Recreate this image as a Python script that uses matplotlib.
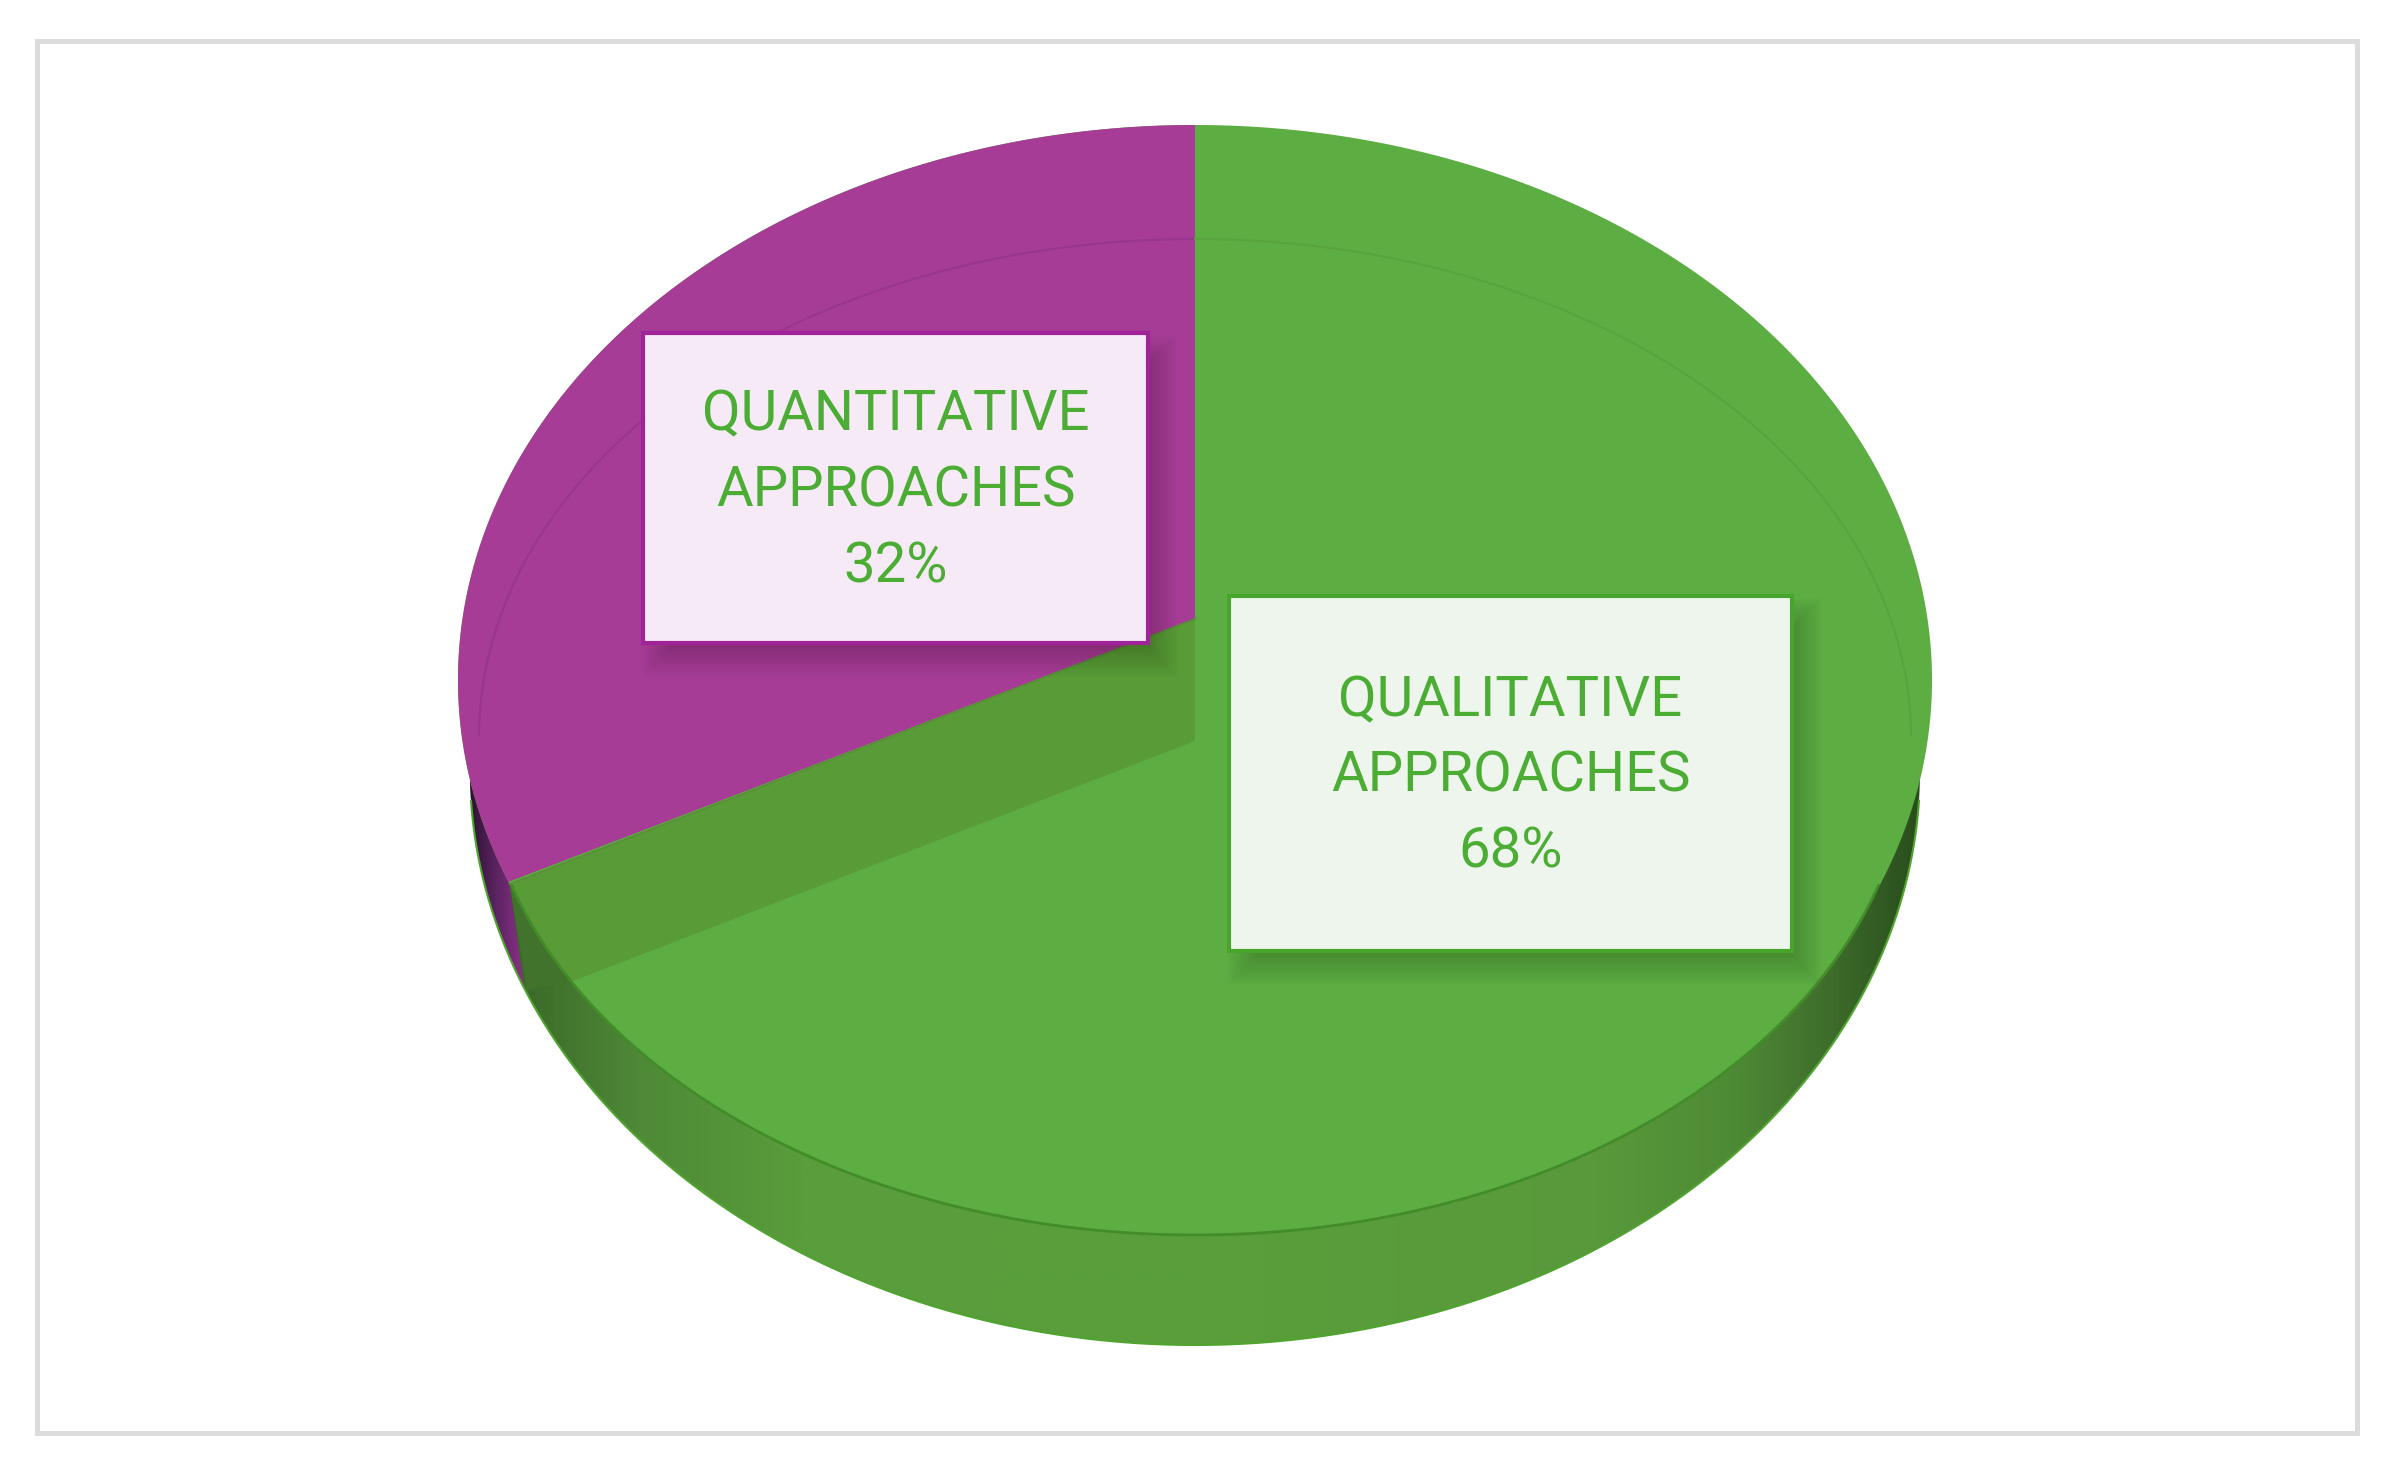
import numpy as np
import matplotlib
matplotlib.use("Agg")
import matplotlib.pyplot as plt
from matplotlib.colors import LinearSegmentedColormap
from matplotlib.patches import Polygon, Rectangle

# data
categories = ["QUALITATIVE\nAPPROACHES", "QUANTITATIVE\nAPPROACHES"]
values = [68, 32]

# colours
green = "#5dae42"
green_dark = "#589b37"
green_text = "#4cad34"
purple = "#a63c96"

# geometry of the drawing, in pixels
W, H = 2396, 1479
cx = 1195
apex_y = 619        # centre of the top face
wall = 122          # height of the cut wall
tilt = 0.82


def ellipse(cy, rx, ry, n=1440):
    t = np.linspace(0, 2 * np.pi, n)
    return np.column_stack([cx + rx * np.sin(t), cy - ry * np.cos(t)])


def ray_dir(deg):
    a = np.radians(deg)
    return np.array([np.sin(a), -np.cos(a) * tilt])


def hit(start, d, curve):
    # first point of a curve in the direction d seen from start
    v = curve - start
    err = np.abs(v[:, 0] * d[1] - v[:, 1] * d[0])
    err[(v @ d) < 0] = 1e9
    return curve[np.argmin(err)]


def gradient(ax, stops, clip, x0, x1):
    xs = np.linspace(0, 1, 600)
    cmap = LinearSegmentedColormap.from_list("g", [((x - x0) / (x1 - x0), c) for x, c in stops])
    im = ax.imshow(xs[None, :], extent=(x0, x1, H, 0), cmap=cmap, vmin=0, vmax=1, aspect="auto", zorder=1)
    im.set_clip_path(clip)


plt.rcParams["font.family"] = ["Roboto", "DejaVu Sans"]

fig = plt.figure(figsize=(W / 100, H / 100), dpi=100)
ax = fig.add_axes([0, 0, 1, 1])

upper = ellipse(680, 737, 555)
lip = ellipse(737, 716, 498)
body = ellipse(770, 725, 575)

# angle where the first slice ends, clockwise from the top
cut = values[0] / sum(values) * 360
d = ray_dir(cut)
apex = np.array([cx, apex_y])
apex2 = np.array([cx, apex_y + wall])
p_end = hit(apex, d, upper)
p_end2 = hit(apex2, d, lip)
edge_y = p_end[1]

# side of the pie
body_patch = Polygon(body, closed=True, fc="none", ec="none", transform=ax.transData)
ax.add_patch(body_patch)
gradient(ax, [(455, "#2e5520"), (527, "#3d6c2a"), (640, "#4f8a37"), (800, "#5a9d3c"), (1195, "#5a9f3c"),
              (1600, "#59993b"), (1740, "#4e8a35"), (1830, "#3f6e2c"), (1932, "#274a1b")],
         body_patch, 455, 1932)
low = body[body[:, 1] > 800]
low = low[np.argsort(low[:, 0])]
ax.plot(low[:, 0], low[:, 1], color="#4ea42e", lw=1.5, zorder=1.1)

# purple part of the side, left of the cut
side_pts = body[(body[:, 0] < cx) & (body[:, 1] < 990) & (body[:, 1] > 700)]
side_patch = Polygon(np.vstack([side_pts, [p_end]]), closed=True, fc="none", ec="none", transform=ax.transData)
ax.add_patch(side_patch)
gradient(ax, [(470, "#2b1230"), (495, "#5a2360"), (530, "#93338f")], side_patch, 470, 530)
ax.add_patch(Polygon([p_end, (527, 990), p_end2], closed=True, fc="#41732c", ec="none", zorder=1.2))

# top face, green first and then the purple slice over it
face = np.vstack([upper[upper[:, 1] <= edge_y], lip[lip[:, 1] > edge_y]])
face = face[np.argsort(np.arctan2(face[:, 0] - cx, -(face[:, 1] - 700)))]
face_patch = Polygon(face, closed=True, fc=green, ec="none", zorder=2)
ax.add_patch(face_patch)

ang = np.degrees(np.arctan2(upper[:, 0] - cx, -(upper[:, 1] - apex_y) / tilt)) % 360
arc = upper[ang >= cut]
arc = arc[np.argsort(ang[ang >= cut])]
ax.add_patch(Polygon(np.vstack([apex, arc, [cx, 125]]), closed=True, fc=purple, ec="none", zorder=2.1))

# cut wall of the slice
wall_patch = Polygon([apex, apex + d * 1500, apex2 + d * 1500, apex2], closed=True, fc=green_dark, ec="none", zorder=2.2)
ax.add_patch(wall_patch)
wall_patch.set_clip_path(face_patch)
ax.plot([apex[0], p_end[0]], [apex[1], p_end[1]], color="#5b8f3a", lw=1.3, zorder=2.25)

# thin rim line, stronger on the front
top_part = lip[lip[:, 1] <= 737]
is_purple = top_part[:, 0] < cx
ax.plot(top_part[is_purple, 0], top_part[is_purple, 1], color="#97368c", lw=1.5, zorder=2.3)
ax.plot(top_part[~is_purple, 0], top_part[~is_purple, 1], color="#57a33d", lw=1.5, zorder=2.3)
front = lip[(lip[:, 1] > 737) & (lip[:, 1] > edge_y)]
front = front[np.argsort(front[:, 0])]
ax.plot(front[:, 0], front[:, 1], color="#438c2a", lw=2, zorder=2.3)

# label boxes: left, top, right, bottom, fill, edge
boxes = [
    (1229, 596, 1792, 951, "#eef5ec", "#48a52c"),
    (643, 333, 1148, 643, "#f5eaf5", "#a0239a"),
]
for i, (x0, y0, x1, y1, fill, edge) in enumerate(boxes):
    # soft shadow, lower right only
    for k in range(16):
        grow = 16 - k * 2
        sh = Rectangle((x0 + 14 - grow, y0 + 18 - grow), x1 - x0 + 2 * grow, y1 - y0 + 2 * grow,
                       fc="black", ec="none", alpha=0.012, zorder=3)
        ax.add_patch(sh)
        sh.set_clip_path(face_patch)
    ax.add_patch(Rectangle((x0, y0), x1 - x0, y1 - y0, fc=fill, ec=edge, lw=3, zorder=4))
    ax.text((x0 + x1) / 2, (y0 + y1) / 2 + 3, f"{categories[i]}\n{values[i]}%", color=green_text, fontsize=40.5,
            ha="center", va="center", linespacing=1.54, zorder=5)

# frame
ax.add_patch(Rectangle((36.5, 41), 2320.5, 1392, fc="none", ec="#dcdcdc", lw=3.6, zorder=6))

ax.set_xlim(0, W)
ax.set_ylim(H, 0)
ax.axis("off")
fig.savefig("out.png", dpi=100, facecolor="white")
